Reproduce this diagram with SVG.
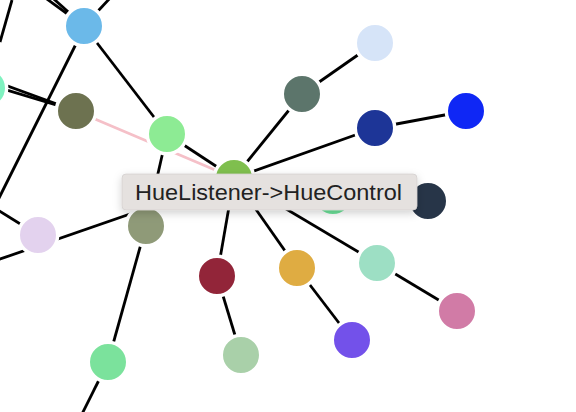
<svg xmlns="http://www.w3.org/2000/svg" width="576" height="412" viewBox="0 0 576 412">
<defs>
<style>
.e{stroke:#000;stroke-width:2.8;fill:none}
.hl{stroke:#f5c0c8;stroke-width:2.8;fill:none}
.n circle{stroke:#fff;stroke-width:3.4}
.tip rect{fill:#e5e1df;stroke:#d3cfcd;stroke-width:0.75}
.tip text{font-family:"Liberation Sans",Arial,sans-serif;font-size:22px;fill:#222}
</style>
<filter id="sh" x="-10%" y="-40%" width="120%" height="200%">
<feDropShadow dx="0" dy="3" stdDeviation="4" flood-color="#000" flood-opacity="0.18"/>
</filter>
</defs>
<rect width="576" height="412" fill="#fff"/>
<g id="connectors">
<line class="e" x1="12" y1="0" x2="0" y2="42"/>
<line class="e" x1="40" y1="-6" x2="84" y2="26"/>
<line class="e" x1="46" y1="-8" x2="84" y2="26"/>
<line class="e" x1="112" y1="-4" x2="84" y2="26"/>
<line class="e" x1="85" y1="26" x2="-8" y2="212"/>
<line class="e" x1="84" y1="26" x2="167" y2="134"/>
<line class="e" x1="-20" y1="76" x2="76" y2="111"/>
<line class="e" x1="-20" y1="82" x2="76" y2="111"/>
<line class="hl" x1="76" y1="111" x2="234" y2="178"/>
<line class="e" x1="167" y1="134" x2="234" y2="178"/>
<line class="e" x1="167" y1="134" x2="146" y2="226"/>
<line class="e" x1="234" y1="178" x2="302" y2="94"/>
<line class="e" x1="302" y1="94" x2="375" y2="43"/>
<line class="e" x1="234" y1="178" x2="375" y2="128"/>
<line class="e" x1="375" y1="128" x2="466" y2="111"/>
<line class="e" x1="234" y1="178" x2="217" y2="276"/>
<line class="e" x1="217" y1="276" x2="241" y2="355"/>
<line class="e" x1="234" y1="178" x2="297" y2="268"/>
<line class="e" x1="297" y1="268" x2="352" y2="340"/>
<line class="e" x1="234" y1="178" x2="377" y2="263"/>
<line class="e" x1="377" y1="263" x2="457" y2="311"/>
<line class="e" x1="234" y1="178" x2="-20" y2="266"/>
<line class="e" x1="38" y1="235" x2="-20" y2="199"/>
<line class="e" x1="146" y1="226" x2="108" y2="362"/>
<line class="e" x1="108" y1="362" x2="78" y2="422"/>
</g>
<g class="n">
<g id="n-aqua-left"><circle cx="-13" cy="88" r="19.7" fill="#80f2c0"/></g>
<g id="n-sky"><circle cx="84" cy="26" r="19.7" fill="#6bb9e9"/></g>
<g id="n-olive"><circle cx="76" cy="111" r="19.7" fill="#6d7250"/></g>
<g id="n-lightgreen"><circle cx="167" cy="134" r="19.7" fill="#8deb94"/></g>
<g id="n-huecontrol"><circle cx="234" cy="178" r="19.7" fill="#7fbf4e"/></g>
<g id="n-slate"><circle cx="302" cy="94" r="19.7" fill="#5c756b"/></g>
<g id="n-paleblue"><circle cx="375" cy="43" r="19.7" fill="#d6e4f8"/></g>
<g id="n-darkblue"><circle cx="375" cy="128" r="19.7" fill="#1d3597"/></g>
<g id="n-brightblue"><circle cx="466" cy="111" r="19.7" fill="#0f27f5"/></g>
<g id="n-hiddengreen"><circle cx="333" cy="196" r="19.7" fill="#6de39a"/></g>
<g id="n-navy"><circle cx="428" cy="201" r="19.7" fill="#273548"/></g>
<g id="n-mint"><circle cx="377" cy="263" r="19.7" fill="#9ddfc4"/></g>
<g id="n-pink"><circle cx="457" cy="311" r="19.7" fill="#d17ba6"/></g>
<g id="n-gold"><circle cx="297" cy="268" r="19.7" fill="#dfac42"/></g>
<g id="n-purple"><circle cx="352" cy="340" r="19.7" fill="#7351ea"/></g>
<g id="n-crimson"><circle cx="217" cy="276" r="19.7" fill="#922539"/></g>
<g id="n-sage"><circle cx="241" cy="355" r="19.7" fill="#a9d0a9"/></g>
<g id="n-grayolive"><circle cx="146" cy="226" r="19.7" fill="#8f9a78"/></g>
<g id="n-lavender"><circle cx="38" cy="235" r="19.7" fill="#e3d2ee"/></g>
<g id="n-greenbottom"><circle cx="108" cy="362" r="19.7" fill="#7be29c"/></g>
</g>
<g id="tooltip" class="tip">
<rect x="122" y="174" width="295" height="36" rx="4" filter="url(#sh)"/>
<text x="135" y="200" textLength="267" lengthAdjust="spacingAndGlyphs">HueListener-&gt;HueControl</text>
</g>
</svg>
